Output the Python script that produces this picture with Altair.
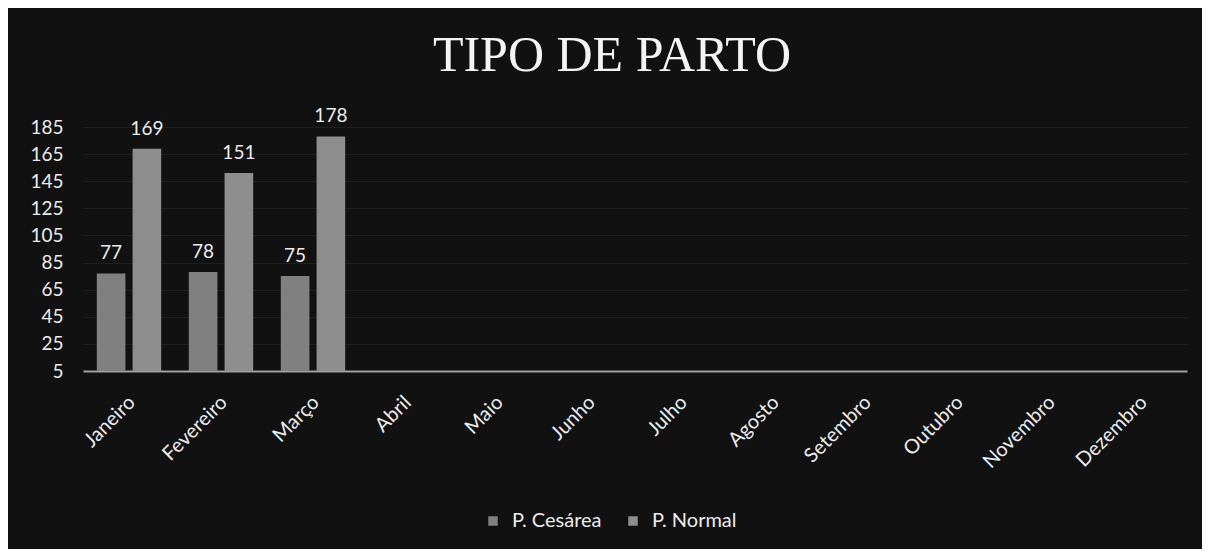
import altair as alt
import pandas as pd

months = ["Janeiro", "Fevereiro", "Março", "Abril", "Maio", "Junho", "Julho",
          "Agosto", "Setembro", "Outubro", "Novembro", "Dezembro"]
series = ["P. Cesárea", "P. Normal"]
cesarea = [77, 78, 75]
normal = [169, 151, 178]
y_ticks = [5, 25, 45, 65, 85, 105, 125, 145, 165, 185]

rows = []
for i, v in enumerate(cesarea):
    rows.append({"mes": months[i], "tipo": series[0], "valor": v})
for i, v in enumerate(normal):
    rows.append({"mes": months[i], "tipo": series[1], "valor": v})
df = pd.DataFrame(rows)

FONT = "Lato"
TXT = "#ececec"

x_enc = alt.X("mes:N", sort=months,
              scale=alt.Scale(domain=months, paddingInner=0.3, paddingOuter=0.15),
              axis=alt.Axis(title=None, labelAngle=-45, labelAlign="right",
                            labelBaseline="top", labelPadding=21, labelOffset=-4,
                            labelFont=FONT, labelFontSize=20, labelColor=TXT,
                            ticks=False, labelOverlap=False,
                            domain=True, domainColor="#a0a0a0", domainWidth=2,
                            grid=False))
y_scale = alt.Scale(domain=[5, 185], zero=False, nice=False)
y_enc = alt.Y("valor:Q", scale=y_scale,
              axis=alt.Axis(title=None, values=y_ticks, tickCount=20, labelFont=FONT,
                            labelFontSize=19, labelColor=TXT, ticks=False,
                            labelOverlap=False, labelBound=False, labelFlush=False,
                            domain=False, labelPadding=20, grid=True,
                            gridColor="#1f1f1f", gridWidth=1))
xoff = alt.XOffset("tipo:N", sort=series, scale=alt.Scale(domain=series, paddingInner=0.2))
color = alt.Color("tipo:N", sort=series,
                  scale=alt.Scale(domain=series, range=["#808080", "#8e8e8e"]),
                  legend=alt.Legend(title=None, orient="none", direction="horizontal",
                                    legendX=400, legendY=384, symbolType="square",
                                    symbolSize=90, symbolStrokeWidth=0,
                                    labelFont=FONT, labelFontSize=20,
                                    labelColor=TXT, columnPadding=21,
                                    labelOffset=9, symbolOffset=0))

base = alt.Chart(df)
bars = base.mark_bar().encode(x=x_enc, xOffset=xoff, y=y_enc, y2=alt.datum(5), color=color)
labels = base.mark_text(baseline="bottom", dy=-10, font=FONT, fontSize=19,
                        color=TXT).encode(
    x=alt.X("mes:N", sort=months), xOffset=xoff, y=alt.Y("valor:Q"),
    text=alt.Text("valor:Q"))

chart = alt.layer(bars, labels).properties(
    width=1104, height=244,
    background="#111111",
    autosize=alt.AutoSizeParams(type="none"),
    padding={"left": 75, "top": 119, "right": 15, "bottom": 178},
    title=alt.TitleParams("TIPO DE PARTO", font="Liberation Serif", fontSize=50,
                          fontWeight="normal", color="#f4f4f4", anchor="middle",
                          offset=26, dx=-23, frame="group"),
).configure_view(stroke=None)

chart.save("out.html", embed_options={"renderer": "svg", "actions": False})
